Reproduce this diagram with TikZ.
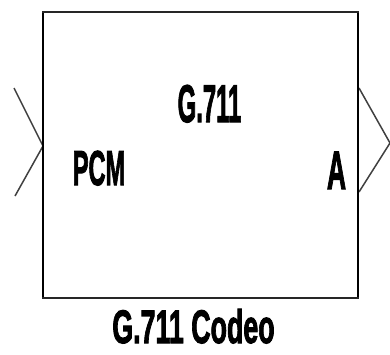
\documentclass[tikz,border=0pt]{standalone}
\usepackage{graphicx}
\usepackage{fontspec}
\setmainfont{Liberation Sans}[BoldFeatures={FakeBold=2.5}]
\tikzset{
  blockedge/.style={draw=black, line width=1.4pt},
  blockrim/.style={draw=black!85, line width=2.6pt},
  portline/.style={draw=black!75, line width=1.5pt, line join=miter},
  lbl/.style={inner sep=0pt, anchor=base, font=\bfseries}
}
% squeezed bold text: #1 = size, #2 = horizontal factor, #3 = text
\newcommand{\sqtext}[3]{\fontsize{#1}{#1}\selectfont\scalebox{#2}[1]{#3}}
\begin{document}
\begin{tikzpicture}[x=1pt,y=-1pt]
  \useasboundingbox (0,0) rectangle (390,354);
  \begin{scope}
    \clip (0,0) rectangle (390,354);
    % block corners
    \coordinate (tl) at (43,12);
    \coordinate (tr) at (358,12);
    \coordinate (br) at (358,298);
    \coordinate (bl) at (43,298);
    % input and output port chevrons
    \coordinate (inA) at (14,88);
    \coordinate (inP) at (43,146);
    \coordinate (inB) at (15,196);
    \coordinate (outA) at (359,88);
    \coordinate (outP) at (390,143);
    \coordinate (outB) at (359,192);
    \draw[portline] (inA) -- (inP) -- (inB);
    \draw[portline] (outA) -- (outP) -- (outB);
    % block outline
    \draw[blockedge] (tl) -- (bl);
    \draw[blockedge] (tr) -- (br);
    \draw[blockrim] ([xshift=-0.7pt]tl) -- ([xshift=0.7pt]tr);
    \draw[blockrim] ([xshift=-0.7pt]bl) -- ([xshift=0.7pt]br);
  \end{scope}
  % labels
  \node[lbl] (title) at (209.5,122) {\sqtext{53}{0.45}{G.711}};
  \node[lbl] (pin)   at (99,185)    {\sqtext{49}{0.48}{PCM}};
  \node[lbl] (pout)  at (336.5,189) {\sqtext{54}{0.49}{A}};
  \node[lbl] (name)  at (193.5,343) {\sqtext{47}{0.57}{G.711 Codeo}};
\end{tikzpicture}
\end{document}
